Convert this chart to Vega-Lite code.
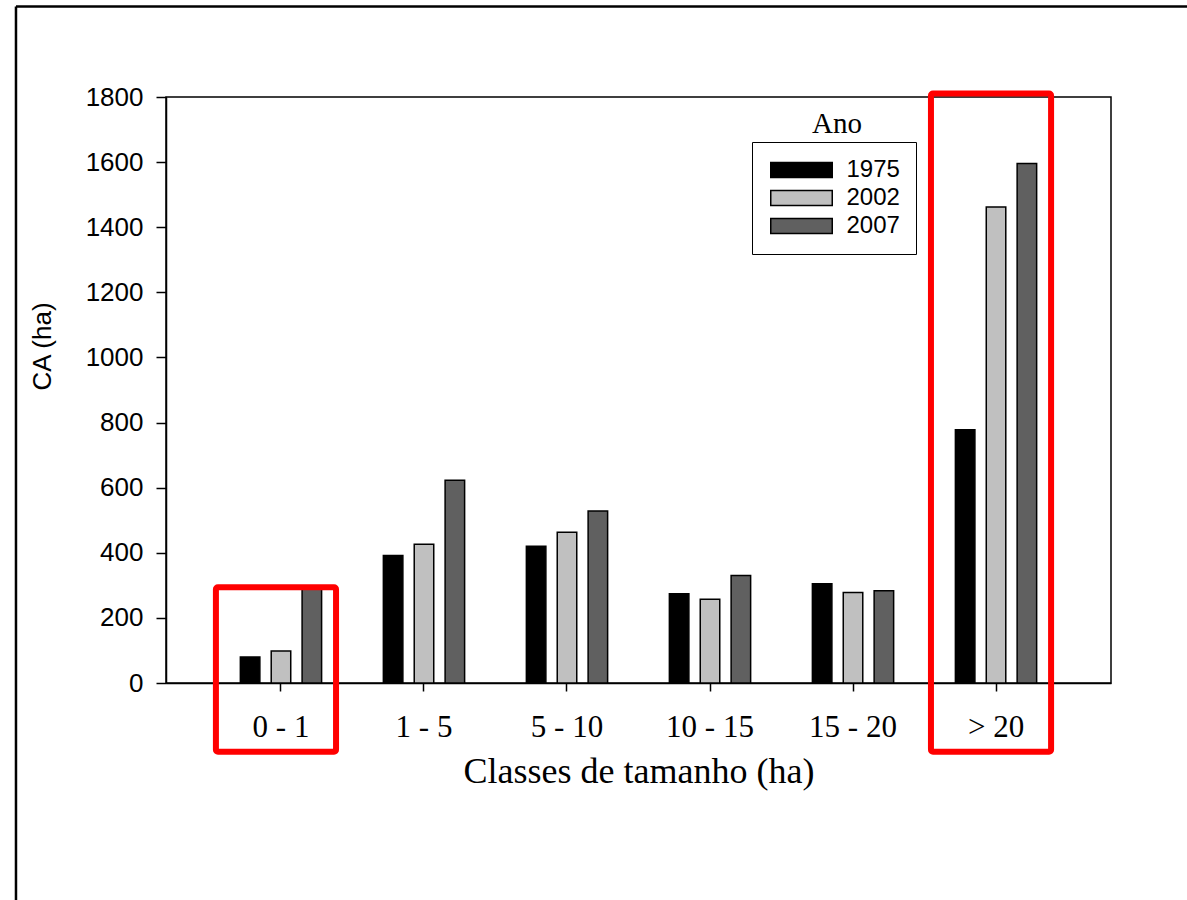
{
  "$schema": "https://vega.github.io/schema/vega-lite/v6.json",
  "width": 945,
  "height": 586,
  "autosize": {"type": "none"},
  "padding": {"left": 166, "top": 97, "right": 76, "bottom": 217},
  "background": "white",
  "config": {
    "view": {"stroke": "black", "strokeWidth": 1.5},
    "font": "Liberation Sans"
  },
  "datasets": {
    "bars": [
      {"classe": "0 - 1", "ano": "1975", "ca": 80},
      {"classe": "0 - 1", "ano": "2002", "ca": 98},
      {"classe": "0 - 1", "ano": "2007", "ca": 293},
      {"classe": "1 - 5", "ano": "1975", "ca": 392},
      {"classe": "1 - 5", "ano": "2002", "ca": 426},
      {"classe": "1 - 5", "ano": "2007", "ca": 623},
      {"classe": "5 - 10", "ano": "1975", "ca": 420},
      {"classe": "5 - 10", "ano": "2002", "ca": 463},
      {"classe": "5 - 10", "ano": "2007", "ca": 528},
      {"classe": "10 - 15", "ano": "1975", "ca": 274},
      {"classe": "10 - 15", "ano": "2002", "ca": 257},
      {"classe": "10 - 15", "ano": "2007", "ca": 330},
      {"classe": "15 - 20", "ano": "1975", "ca": 305},
      {"classe": "15 - 20", "ano": "2002", "ca": 278},
      {"classe": "15 - 20", "ano": "2007", "ca": 283},
      {"classe": "> 20", "ano": "1975", "ca": 778},
      {"classe": "> 20", "ano": "2002", "ca": 1462},
      {"classe": "> 20", "ano": "2007", "ca": 1596}
    ],
    "boxes": [
      {"classe": "0 - 1", "topo": 294, "base": -211},
      {"classe": "> 20", "topo": 1811, "base": -211}
    ],
    "titulo": [
      {"classe": "15 - 20", "y": 1716, "texto": "Ano"}
    ]
  },
  "layer": [
    {
      "data": {"name": "bars"},
      "mark": {"type": "bar", "stroke": "black", "strokeWidth": 1.5},
      "encoding": {
        "x": {
          "field": "classe",
          "type": "nominal",
          "scale": {
            "domain": ["0 - 1", "1 - 5", "5 - 10", "10 - 15", "15 - 20", "> 20"],
            "paddingInner": 0,
            "paddingOuter": 0.304
          },
          "axis": {
            "title": "Classes de tamanho (ha)",
            "labelAngle": 0,
            "labelFont": "Liberation Serif",
            "labelFontSize": 31,
            "labelColor": "black",
            "labelPadding": 21,
            "tickSize": 8,
            "tickWidth": 1.5,
            "tickColor": "black",
            "domainColor": "black",
            "domainWidth": 1.5,
            "titleFont": "Liberation Serif",
            "titleFontSize": 36,
            "titleFontWeight": "normal",
            "titleColor": "black",
            "titlePadding": 12
          }
        },
        "xOffset": {
          "field": "ano",
          "type": "nominal",
          "scale": {"paddingInner": 0.368, "paddingOuter": 1.184}
        },
        "y": {
          "field": "ca",
          "type": "quantitative",
          "scale": {"domain": [0, 1800], "nice": false},
          "axis": {
            "values": [0, 200, 400, 600, 800, 1000, 1200, 1400, 1600, 1800],
            "format": "d",
            "grid": false,
            "title": "CA (ha)",
            "labelFont": "Liberation Sans",
            "labelFontSize": 26,
            "labelColor": "black",
            "labelPadding": 13,
            "tickSize": 10,
            "tickWidth": 1.5,
            "tickColor": "black",
            "domainColor": "black",
            "domainWidth": 1.5,
            "titleFont": "Liberation Sans",
            "titleFontSize": 26,
            "titleFontWeight": "normal",
            "titleColor": "black",
            "titleX": -111,
            "titleY": 249,
            "titleBaseline": "bottom",
            "titleAlign": "center",
            "titleAngle": 270
          }
        },
        "color": {
          "field": "ano",
          "type": "nominal",
          "scale": {"domain": ["1975", "2002", "2007"], "range": ["#000000", "#c0c0c0", "#606060"]},
          "legend": {
            "title": null,
            "orient": "none",
            "legendX": 586,
            "legendY": 45,
            "strokeColor": "black",
            "padding": 16,
            "symbolType": "M-4.1,-1H4.1V1H-4.1Z",
            "symbolSize": 225,
            "symbolStrokeColor": "black",
            "symbolStrokeWidth": 1.5,
            "symbolOpacity": 1,
            "symbolOffset": 21.5,
            "labelOffset": 33,
            "labelFont": "Liberation Sans",
            "labelFontSize": 24,
            "labelColor": "black",
            "rowPadding": 4
          }
        }
      }
    },
    {
      "data": {"name": "boxes"},
      "mark": {"type": "bar", "filled": false, "stroke": "#ff0000", "strokeWidth": 6, "width": {"band": 0.84}, "cornerRadius": 2, "xOffset": -5, "clip": false},
      "encoding": {
        "x": {"field": "classe", "type": "nominal"},
        "y": {"field": "topo", "type": "quantitative"},
        "y2": {"field": "base"}
      }
    },
    {
      "data": {"name": "titulo"},
      "mark": {"type": "text", "font": "Liberation Serif", "fontSize": 29, "color": "black", "dx": -16, "baseline": "middle", "align": "center"},
      "encoding": {
        "x": {"field": "classe", "type": "nominal"},
        "y": {"field": "y", "type": "quantitative"},
        "text": {"field": "texto"}
      }
    },
    {
      "data": {"values": [{}]},
      "mark": {"type": "rule", "color": "black", "strokeWidth": 2.5, "clip": false},
      "encoding": {
        "x": {"datum": "0 - 1", "bandPosition": -1.353},
        "x2": {"datum": "> 20", "bandPosition": 1.9},
        "y": {"datum": 2078}
      }
    },
    {
      "data": {"values": [{}]},
      "mark": {"type": "rule", "color": "black", "strokeWidth": 2.5, "clip": false},
      "encoding": {
        "x": {"datum": "0 - 1", "bandPosition": -1.353},
        "y": {"datum": 2078},
        "y2": {"datum": -700}
      }
    }
  ]
}
